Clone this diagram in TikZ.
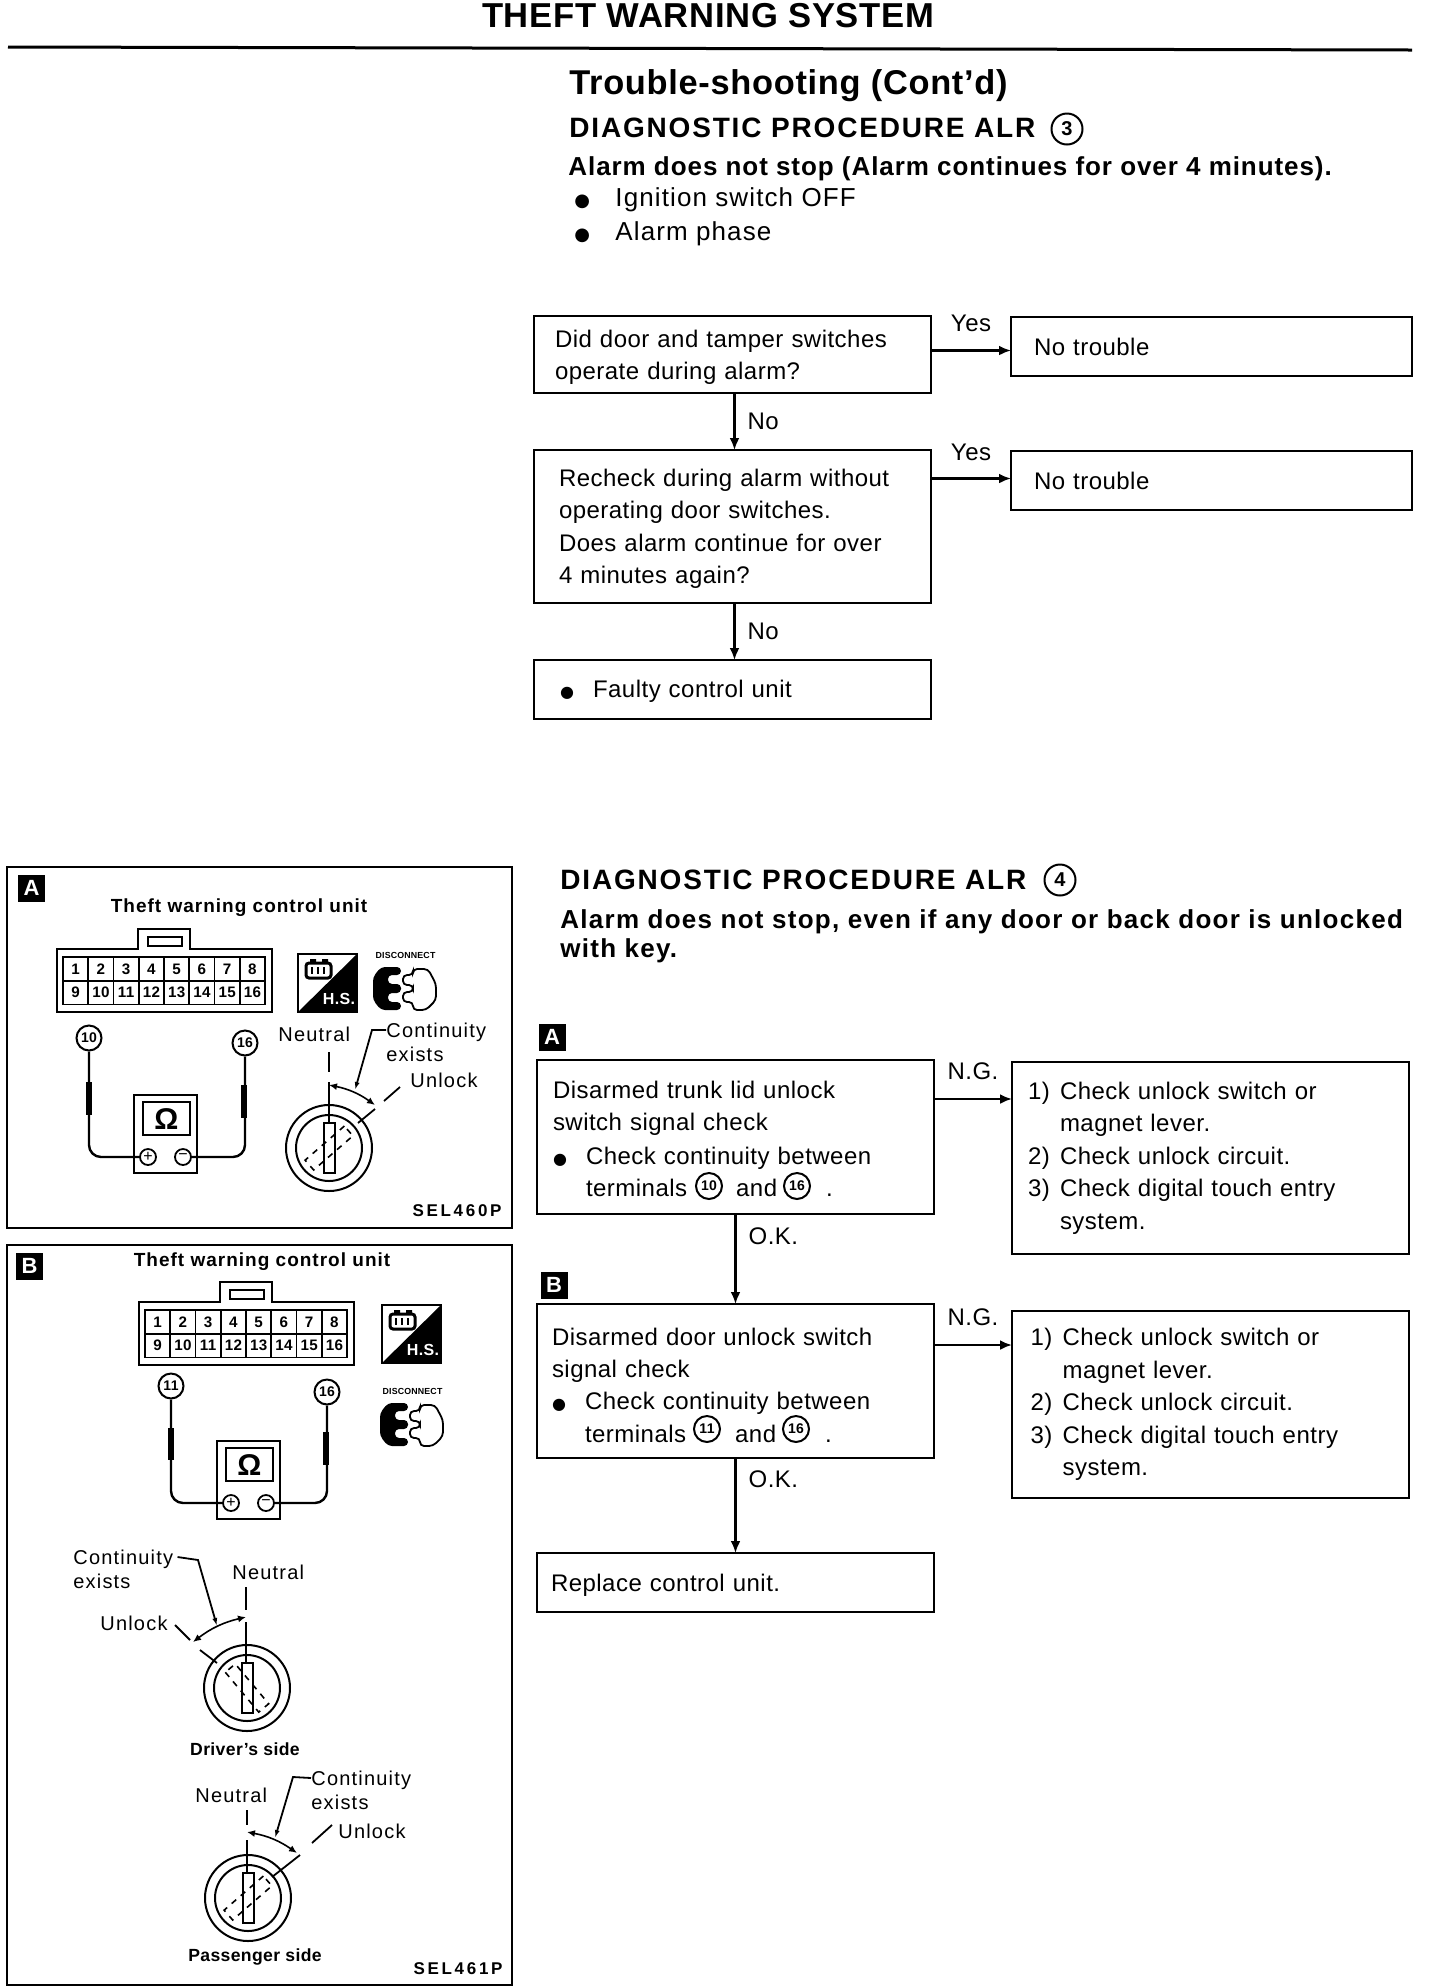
\documentclass[tikz,border=0pt]{standalone}
\usepackage{fontspec}
\setmainfont{Liberation Sans}[LetterSpace=2]
\newfontfamily\symfont{DejaVu Sans}
\usepackage{xcolor}
\usetikzlibrary{arrows.meta, positioning}

\newcommand{\fsz}[2]{\fontsize{#1}{#2}\selectfont}
\newcommand{\spc}[1]{\addfontfeature{LetterSpace=#1}}
\newcommand{\bul}{\makebox[16.5pt][l]{{\symfont\fsz{8}{8}●}}}
\newcommand{\ind}{\hspace*{16.5pt}}
\newcommand{\numb}{\makebox[16pt][l]}
\newcommand{\nudge}[1]{\rule{0pt}{#1}}
\newcommand{\gapc}{\hspace{24.5pt}}

\tikzset{
  flowbox/.style={rectangle, draw=black, line width=1.1pt, outer sep=0pt, minimum width=198.5pt,
                  text width=182.5pt, inner xsep=8pt, inner ysep=0pt, align=left,
                  font=\fsz{12}{16.2}},
  textin/.style={inner xsep=#1, text width=198.5pt-2*#1},
  arr/.style={-{Latex[length=6pt,width=5pt]}, line width=1.2pt},
  edgelabel/.style={font=\fsz{12}{14}, inner sep=0pt},
  headtext/.style={anchor=west, inner sep=0pt, align=left},
  proctext/.style={headtext, font=\bfseries\fsz{14}{14}\spc{6.5}},
  bullettext/.style={headtext, font=\fsz{13}{13}\spc{4.3}},
  tagbox/.style={rectangle, fill=black, text=white, minimum size=13.5pt, inner sep=0pt,
                 font=\bfseries\fsz{11}{11}},
  panel/.style={draw=black, line width=1.2pt},
  small/.style={anchor=west, inner sep=0pt, align=left, font=\fsz{10}{12}\spc{6}},
  smallb/.style={inner sep=0pt, font=\bfseries\fsz{8.8}{11}},
  unitlabel/.style={inner sep=0pt, font=\bfseries\fsz{9.5}{11}\spc{5.3}},
  code/.style={anchor=east, inner sep=0pt, font=\bfseries\fsz{8.5}{10}\spc{16}},
  termnum/.style={circle, draw=black, line width=1pt, fill=white, minimum size=12.5pt, inner sep=0pt,
                  font=\bfseries\fsz{7}{7}},
  bignum/.style={termnum, minimum size=15.5pt, font=\bfseries\fsz{10}{10}},
  wire/.style={line width=1.2pt, rounded corners=6pt},
  probe/.style={line width=3pt},
  cut/.style={line width=0.9pt},
  leader/.style={{Latex[length=4pt,width=2.5pt]}-, line width=0.9pt},
  dimarr/.style={{Latex[length=4pt,width=3.5pt]}-{Latex[length=4pt,width=3.5pt]}, line width=0.8pt},
  cell/.style={rectangle, draw=black, line width=0.8pt, minimum width=12.6pt, minimum height=11.8pt,
               inner sep=0pt, font=\bfseries\fsz{7.6}{8}},
  meterpin/.style={circle, draw=black, line width=0.9pt, fill=white, minimum size=8pt, inner sep=0pt,
                   font=\fsz{8}{8}},
  termconn/.pic={
    \draw[line width=1pt] (0,0) -- (81,0) -- (81,-20) -- (133,-20) -- (133,0) -- (215,0)
        -- (215,63) -- (0,63) -- cycle;
    \draw[line width=1pt] (91,-12) rectangle (125,-3);
    \foreach \r in {0,1}
      \foreach \c in {1,...,8} {
        \pgfmathtruncatemacro{\n}{\c+8*\r}
        \node[cell] (-cell\n) at ({6+25.25*(\c-0.5)},{8+23.7*(\r+0.5)}) {\n};
      }
  },
  hsicon/.pic={
    \draw[line width=0.9pt] (0,0) rectangle (59,58);
    \fill[black] (0,58) -- (59,0) -- (59,58) -- cycle;
    \node[inner sep=0pt, text=white, font=\bfseries\fsz{8}{8}] (-hs) at (41,45) {H.S.};
    \draw[line width=1.5pt, rounded corners=1.5pt] (8,9) rectangle (33,24);
    \fill[black] (12,5) rectangle (18,9) (24,5) rectangle (30,9);
    \draw[line width=0.8pt] (14,13) -- (14,20) (20,13) -- (20,20) (26,13) -- (26,20);
  },
  discon/.pic={
    \node[inner sep=0pt, font=\bfseries\fsz{4.4}{5}] (-txt) at (32.5,-12) {DISCONNECT};
    \fill[black, rounded corners=2pt] (28,0) -- (8,0) -- (0,10) -- (0,33) -- (8,43) -- (28,43)
        -- (28,35) -- (15,35) -- (15,26) -- (28,26) -- (28,17) -- (15,17) -- (15,8) -- (28,8) -- cycle;
    \draw[line width=0.9pt, rounded corners=2pt] (30,8) -- (40,8) -- (40,2) -- (55,2) -- (63,17)
        -- (63,33) -- (53,43) -- (40,43) -- (40,35) -- (30,35) -- (30,25) -- (40,25) -- (40,18)
        -- (30,18) -- cycle;
  },
  ohmmeter/.pic={
    \draw[line width=1pt] (0,0) rectangle (63,78);
    \draw[line width=1pt] (9,7) rectangle (56,40);
    \node[inner sep=0pt, font=\bfseries\fsz{15}{15}] (-ohm) at (32.5,24) {Ω};
    \node[meterpin] (-plus) at (14,62) {+};
    \node[meterpin] (-minus) at (49,62) {−};
  },
  keylock/.pic={
    \draw[line width=1pt] (0,0) circle [radius=21.5pt];
    \draw[line width=1pt] (0,0) circle [radius=16.5pt];
    \draw[line width=1pt] (-5.5,-25) rectangle (5.5,25);
    \draw[line width=0.8pt, dashed, rotate={-90-(#1)}] (-6.5,-26) rectangle (6.5,26);
  },
}

\begin{document}
\begin{tikzpicture}[x=0.5pt, y=-0.5pt]
\useasboundingbox[fill=white] (0,0) rectangle (1440,1988);

\node[inner sep=0pt, font=\bfseries\fsz{17.3}{17.3}] (title) at (708,16) {THEFT WARNING SYSTEM};
\coordinate (ruleL) at (8,47);
\coordinate (ruleR) at (1412,50);
\draw[line width=1.5pt] (ruleL) -- (ruleR);

\node[headtext, font=\bfseries\fsz{17.2}{17.2}] (trouble) at (569,86) {Trouble-shooting (Cont'd)};
\node[proctext] (proc3) at (569,128) {DIAGNOSTIC PROCEDURE ALR};
\node[bignum] (c3) at (1067,129) {3};
\node[headtext, font=\bfseries\fsz{13}{13}\spc{3.6}] (stop3) at (568,169) {Alarm does not stop (Alarm continues for over 4 minutes).};
\node[bullettext] (ign) at (574,200) {{\symfont\fsz{9}{9}\makebox[20.5pt][l]{●}}Ignition switch OFF};
\node[bullettext] (phase) at (574,234) {{\symfont\fsz{9}{9}\makebox[20.5pt][l]{●}}Alarm phase};

\node[flowbox, textin=10.5pt, anchor=north west, minimum height=38.5pt] (q1) at (534,316)
  {\nudge{11.5pt}Did door and tamper switches\\operate during alarm?};
\node[flowbox, textin=12.5pt, below=28.5pt of q1, minimum height=76.5pt] (q2)
  {\nudge{11pt}Recheck during alarm without\\operating door switches.\\Does alarm continue for over\\4 minutes again?};
\node[flowbox, textin=13pt, below=28.5pt of q2, minimum height=29.5pt] (q3) {\nudge{10pt}\bul Faulty control unit};
\node[flowbox, anchor=north west, minimum height=29.5pt, minimum width=200.5pt, text width=184.5pt] (r1) at (1011,317) {\hspace*{3.5pt}No trouble};
\node[flowbox, anchor=north west, minimum height=29.5pt, minimum width=200.5pt, text width=184.5pt] (r2) at (1011,451) {\hspace*{3.5pt}No trouble};

\draw[arr] ([yshift=2pt]q1.east) -- node[edgelabel, above=9pt] {Yes} ([yshift=2pt]q1.east -| r1.west);
\draw[arr] ([xshift=1pt]q1.south) -- node[edgelabel, right=6pt] {No} ([xshift=1pt]q2.north);
\draw[arr] ([yshift=1pt]r2.west -| q2.east) -- node[edgelabel, above=8.5pt] {Yes} ([yshift=1pt]r2.west);
\draw[arr] ([xshift=1pt]q2.south) -- node[edgelabel, right=6pt] {No} ([xshift=1pt]q3.north);

\node[proctext] (proc4) at (560,880) {DIAGNOSTIC PROCEDURE ALR};
\node[bignum] (c4) at (1060,880) {4};
\node[headtext, font=\bfseries\fsz{13}{14.3}\spc{4.9}] (stop4) at (560,936)
  {Alarm does not stop, even if any door or back door is unlocked\\with key.};
\node[tagbox] (tagA) at (552,1037) {A};
\node[tagbox] (tagB) at (554,1285) {B};

\node[flowbox, font=\fsz{12}{16.5}, anchor=north west, minimum height=77pt] (q4) at (537,1060)
  {\nudge{10.6pt}Disarmed trunk lid unlock\\switch signal check\\\bul Check continuity between\\\ind terminals\gapc and\gapc .};
\node[flowbox, textin=7.5pt, below=45pt of q4, minimum height=77pt] (q5)
  {\nudge{12.8pt}Disarmed door unlock switch\\signal check\\\bul Check continuity between\\\ind terminals\gapc and\gapc .};
\node[flowbox, textin=7pt, below=47.5pt of q5, minimum height=29.5pt] (q6) {\nudge{11.6pt}Replace control unit.};
\node[termnum, minimum size=13pt] (c10) at (709,1186) {10};
\node[termnum, minimum size=13pt] (c16a) at (797,1186) {16};
\node[termnum, minimum size=13pt] (c11) at (707,1429) {11};
\node[termnum, minimum size=13pt] (c16b) at (796,1429) {16};
\node[flowbox, anchor=north west, minimum height=96pt] (r4) at (1012,1062)
  {\numb{1)}Check unlock switch or\\\numb{}magnet lever.\\\numb{2)}Check unlock circuit.\\\numb{3)}Check digital touch entry\\\numb{}system.};
\node[flowbox, textin=9.3pt, anchor=north west, minimum height=93.5pt] (r5) at (1012,1311)
  {\numb{1)}Check unlock switch or\\\numb{}magnet lever.\\\numb{2)}Check unlock circuit.\\\numb{3)}Check digital touch entry\\\numb{}system.};

\draw[arr] ([yshift=19pt]q4.east) -- node[edgelabel, above=9pt] {N.G.} ([yshift=19pt]q4.east -| r4.west);
\draw[arr] (q4) -- node[edgelabel, right=6pt, pos=0.25] {O.K.} (q5);
\draw[arr] ([yshift=18pt]q5.east) -- node[edgelabel, above=9pt] {N.G.} ([yshift=18pt]q5.east -| r5.west);
\draw[arr] (q5) -- node[edgelabel, right=6pt, pos=0.22] {O.K.} (q6);

\draw[panel] (7,867) rectangle (512,1228);
\node[tagbox] (panelA) at (31.5,888) {A};
\node[unitlabel] (unitA) at (239,908) {Theft warning control unit};
\pic (connA) at (57,949) {termconn};
\pic (hsA) at (298,954) {hsicon};
\pic (discA) at (373,967) {discon};
\pic (mA) at (134,1095) {ohmmeter};
\node[termnum] (n10) at (89,1038) {10};
\node[termnum] (n16a) at (245,1043) {16};
\draw[wire] (n10) |- (mA-plus);
\draw[wire] (n16a) |- (mA-minus);
\draw[probe] (89,1082) -- (89,1115);
\draw[probe] (244,1085) -- (244,1118);
\pic (keyA) at (329,1148) {keylock=-41};
\node[small] (neutA) at (278,1034) {Neutral};
\node[small] (contA) at (386,1042) {Continuity\\exists};
\node[small] (unlA) at (410,1080) {Unlock};
\node[code] (selA) at (502,1211) {SEL460P};
\draw[cut] (329,1052) -- (329,1072) (329,1082) -- (329,1123);
\draw[cut] (400,1087) -- (384,1101) (375,1109) -- (358,1123);
\draw[leader] (355,1090) -- (372,1030) -- ([yshift=6pt]contA.west);
\draw[dimarr] (329,1085) to[bend left=12] (375,1105);

\draw[panel] (7,1245) rectangle (512,1985);
\node[tagbox] (panelB) at (29.5,1266) {B};
\node[unitlabel] (unitB) at (262,1262) {Theft warning control unit};
\pic (connB) at (139,1302) {termconn};
\pic (hsB) at (382,1305) {hsicon};
\pic (discB) at (380,1403) {discon};
\pic (mB) at (217,1441) {ohmmeter};
\node[termnum] (n11) at (171,1386) {11};
\node[termnum] (n16b) at (327,1392) {16};
\draw[wire] (n11) |- (mB-plus);
\draw[wire] (n16b) |- (mB-minus);
\draw[probe] (171,1428) -- (171,1460);
\draw[probe] (326,1432) -- (326,1465);

\pic (keyD) at (247,1688) {keylock=-130};
\node[small] (contD) at (73,1569) {Continuity\\exists};
\node[small] (neutD) at (232,1572) {Neutral};
\node[small] (unlD) at (100,1623) {Unlock};
\node[smallb] (sideD) at (245,1749) {Driver's side};
\draw[cut] (246,1587) -- (246,1610) (246,1622) -- (246,1663);
\draw[cut] (175,1625) -- (190,1640) (200,1650) -- (217,1663);
\draw[leader] (217,1626) -- (198,1560) -- ([xshift=2pt,yshift=6pt]contD.east);
\draw[dimarr] (193,1642) to[bend left=12] (246,1617);

\pic (keyP) at (248,1898) {keylock=-41};
\node[small] (contP) at (311,1790) {Continuity\\exists};
\node[small] (neutP) at (195,1795) {Neutral};
\node[small] (unlP) at (338,1831) {Unlock};
\node[smallb] (sideP) at (255,1957) {Passenger side};
\node[code] (selB) at (503,1969) {SEL461P};
\draw[cut] (247,1810) -- (247,1825) (247,1840) -- (247,1873);
\draw[cut] (332,1825) -- (312,1843) (300,1855) -- (272,1877);
\draw[leader] (275,1838) -- (293,1777) -- ([yshift=6pt]contP.west);
\draw[dimarr] (247,1832) to[bend left=12] (297,1853);
\end{tikzpicture}
\end{document}
